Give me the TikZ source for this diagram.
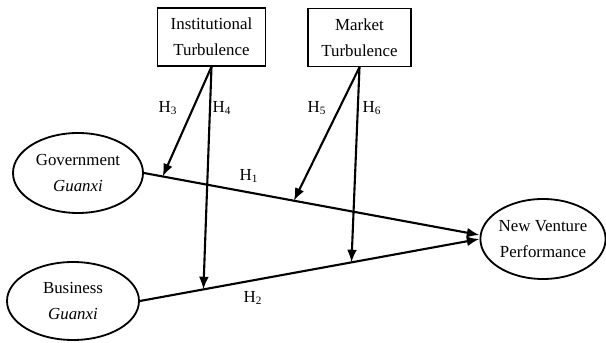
\documentclass[tikz,border=0pt]{standalone}
\usepackage{fontspec}
\setmainfont{Liberation Serif}
\usetikzlibrary{arrows.meta,positioning,shapes.geometric}

\begin{document}
\begin{tikzpicture}[
      font=\fontsize{12}{18.5}\selectfont,
      modbox/.style={rectangle, draw, line width=1pt, align=center,
                     inner xsep=0.33cm, minimum height=1.45cm},
      latent/.style={ellipse, draw, line width=1.3pt, align=center,
                     inner sep=0pt},
      hyp/.style={-{Latex[length=9pt,width=7pt]}, line width=1.5pt},
    ]
    \useasboundingbox (0,0) rectangle (15.15,8.575);

    % moderators
    \node[modbox] (inst) at (5.2875,7.65)  {Institutional\\Turbulence};
    \node[modbox] (mkt)  at (8.9875,7.6375) {Market\\Turbulence};

    % constructs
    \node[latent, minimum width=3.25cm, minimum height=2cm]  (gov) at (1.95,4.25)  {Government\\\textit{Guanxi}};
    \node[latent, minimum width=3.3cm, minimum height=1.95cm] (bus) at (1.825,1.05) {Business\\\textit{Guanxi}};
    \node[latent, minimum width=3.1cm, minimum height=2cm] (nvp) at (13.575,2.6) {New Venture\\Performance};

    % main effects, with points for the moderating arrows
    \draw[hyp] (gov.east) -- coordinate[pos=0.056] (m3) coordinate[pos=0.447] (m5) ([yshift=0.1cm]nvp.west);
    \draw[hyp] (bus.east) -- coordinate[pos=0.187] (m4) coordinate[pos=0.623] (m6) (nvp.west);

    % moderating effects
    \draw[hyp] (inst.south) -- (m3);
    \draw[hyp] (inst.south) -- (m4);
    \draw[hyp] (mkt.south) -- (m5);
    \draw[hyp] (mkt.south) -- (m6);

    % labels
    \node (h1) at (6.225,4.175) {H\textsubscript{1}};
    \node (h2) at (6.325,1.125) {H\textsubscript{2}};
    \node (h3) at (4.2,5.875)   {H\textsubscript{3}};
    \node (h4) at (5.55,5.875)  {H\textsubscript{4}};
    \node (h5) at (7.925,5.875) {H\textsubscript{5}};
    \node (h6) at (9.3,5.875)   {H\textsubscript{6}};
  \end{tikzpicture}
\end{document}
